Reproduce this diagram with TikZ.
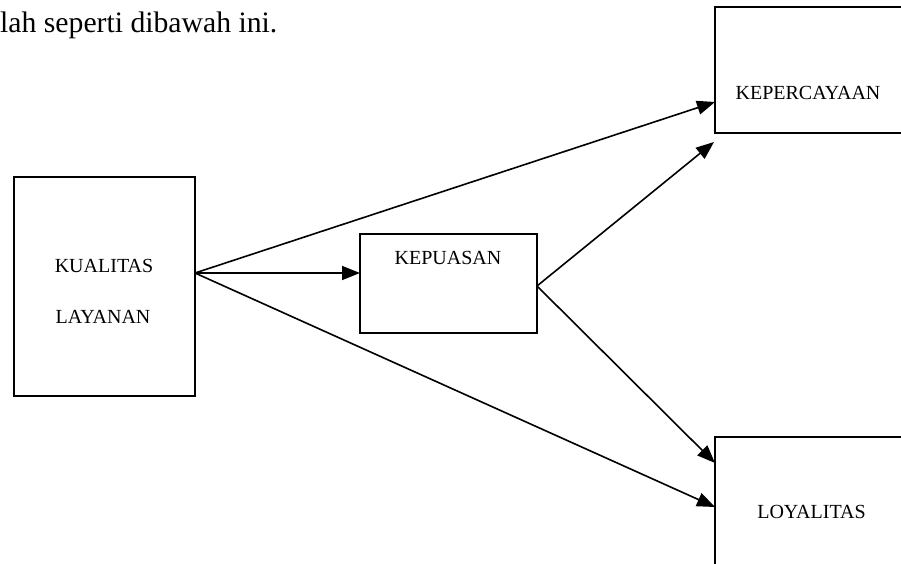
\documentclass[tikz,border=0pt]{standalone}
\usepackage{fontspec}
\setmainfont{Liberation Serif}
\usetikzlibrary{arrows.meta}
\begin{document}
\begin{tikzpicture}[x=1pt,y=-1pt,
  box/.style={draw, line width=1.7pt, rectangle, inner sep=0pt},
  lbl/.style={font=\fontsize{20pt}{22pt}\selectfont, inner sep=0pt, anchor=base},
  arr/.style={line width=1.6pt, -{Triangle[length=18pt,width=14pt]}}]
\useasboundingbox (0,0) rectangle (901,564);
\clip (0,0) rectangle (901,564);
% heading text
\node[font=\fontsize{29.7pt}{34pt}\selectfont, inner sep=0pt, anchor=base west] (head) at (0,33) {lah seperti dibawah ini.};
% boxes
\node[box, minimum width=181pt, minimum height=219pt] (kual) at (104.5,286.5) {};
\node[box, minimum width=177pt, minimum height=99pt] (puas) at (448.5,283.5) {};
\node[box, minimum width=195pt, minimum height=126pt] (perc) at (812.5,70) {};
\node[box, minimum width=195pt, minimum height=140pt] (loy) at (812.5,507) {};
% labels
\node[lbl] (t1) at (104,272) {KUALITAS};
\node[lbl] (t2) at (103,323) {LAYANAN};
\node[lbl] (t3) at (448,264) {KEPUASAN};
\node[lbl] (t4) at (808,100) {KEPERCAYAAN};
\node[lbl] (t5) at (811.5,518) {LOYALITAS};
% connector points
\coordinate (ko) at (195,273);
\coordinate (pin) at (360,273);
\coordinate (pout) at (537,286);
\coordinate (c1) at (715,102);
\coordinate (c2) at (714,142);
\coordinate (l1) at (715,463);
\coordinate (l2) at (715,507);
% connectors
\draw[arr] (ko) -- (c1);
\draw[arr] (ko) -- (pin);
\draw[arr] (ko) -- (l2);
\draw[arr] (pout) -- (c2);
\draw[arr] (pout) -- (l1);
\end{tikzpicture}
\end{document}
